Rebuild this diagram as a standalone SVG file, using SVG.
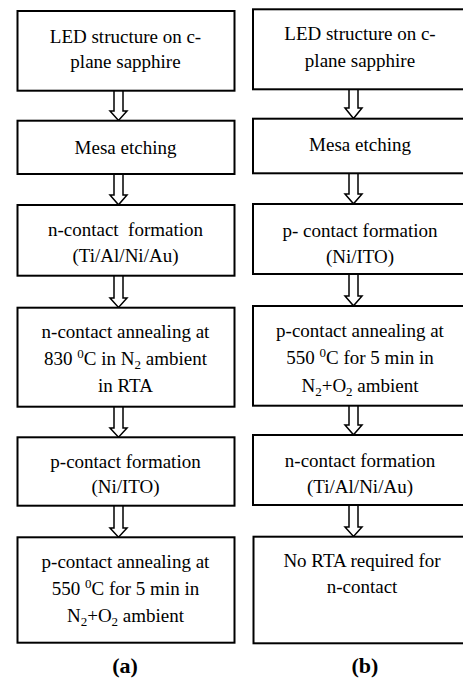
<svg xmlns="http://www.w3.org/2000/svg" width="463" height="678" viewBox="0 0 463 678">
<style>
.box{fill:#fff;stroke:#000;stroke-width:2}
.t{font-family:'Liberation Serif','Times New Roman',serif;font-size:19px;fill:#000;text-anchor:middle;white-space:pre}
.lab{font-family:'Liberation Serif','Times New Roman',serif;font-size:22px;font-weight:bold;fill:#000;text-anchor:middle}
.arr{fill:#fff;stroke:#000;stroke-width:1.5;stroke-linejoin:miter}
.s{font-size:13px}
</style>
<rect width="463" height="678" fill="#fff"/>
<g id="connectors">
<path class="arr" d="M114,90.7 V111 H110 L118.5,120.5 L127,111 H123 V90.7"/>
<path class="arr" d="M114,174 V195 H110 L118.5,204.8 L127,195 H123 V174"/>
<path class="arr" d="M114,275.7 V298 H110 L118.5,307.5 L127,298 H123 V275.7"/>
<path class="arr" d="M114,406.7 V428 H110 L118.5,437.2 L127,428 H123 V406.7"/>
<path class="arr" d="M114,505.7 V528 H110 L118.5,537.2 L127,528 H123 V505.7"/>
<path class="arr" d="M349,89.3 V108 H345 L353.5,118.5 L362,108 H358 V89.3"/>
<path class="arr" d="M349,173.3 V194 H345 L353.5,203.8 L362,194 H358 V173.3"/>
<path class="arr" d="M349,274 V296 H345 L353.5,305.8 L362,296 H358 V274"/>
<path class="arr" d="M349,405.7 V425 H345 L353.5,434.8 L362,425 H358 V405.7"/>
<path class="arr" d="M349,505 V527 H345 L353.5,536.5 L362,527 H358 V505"/>
</g>
<g id="a1"><rect class="box" x="17.5" y="11" width="217" height="79.7"/>
<text class="t" x="125.5" y="42.7">LED structure on c-</text>
<text class="t" x="125.5" y="68.3">plane sapphire</text></g>
<g id="a2"><rect class="box" x="17.5" y="120.7" width="217" height="53.3"/>
<text class="t" x="125.5" y="154">Mesa etching</text></g>
<g id="a3"><rect class="box" x="17.5" y="205" width="217" height="70.7"/>
<text class="t" x="125.5" y="236">n-contact  formation</text>
<text class="t" x="125.5" y="261.7">(Ti/Al/Ni/Au)</text></g>
<g id="a4"><rect class="box" x="17.5" y="307.7" width="217" height="99"/>
<text class="t" x="125.5" y="338.3">n-contact annealing at</text>
<text class="t" x="125.5" y="365">830 <tspan class="s" dy="-7">0</tspan><tspan dy="7">C in N</tspan><tspan class="s" dy="4">2</tspan><tspan dy="-4"> ambient</tspan></text>
<text class="t" x="125.5" y="391.7">in RTA</text></g>
<g id="a5"><rect class="box" x="17.5" y="437.3" width="217" height="68.4"/>
<text class="t" x="125.5" y="467.5">p-contact formation</text>
<text class="t" x="125.5" y="493.3">(Ni/ITO)</text></g>
<g id="a6"><rect class="box" x="17.5" y="537.3" width="217" height="105.4"/>
<text class="t" x="125.5" y="568.3">p-contact annealing at</text>
<text class="t" x="125.5" y="595">550 <tspan class="s" dy="-7">0</tspan><tspan dy="7">C for 5 min in</tspan></text>
<text class="t" x="125.5" y="621.7">N<tspan class="s" dy="4">2</tspan><tspan dy="-4">+O</tspan><tspan class="s" dy="4">2</tspan><tspan dy="-4"> ambient</tspan></text></g>
<g id="b1"><rect class="box" x="253" y="9.3" width="214" height="80"/>
<text class="t" x="360" y="40">LED structure on c-</text>
<text class="t" x="360" y="66.7">plane sapphire</text></g>
<g id="b2"><rect class="box" x="253" y="118.7" width="214" height="54.6"/>
<text class="t" x="360" y="150.5">Mesa etching</text></g>
<g id="b3"><rect class="box" x="253" y="204" width="214" height="70"/>
<text class="t" x="360" y="237">p- contact formation</text>
<text class="t" x="360" y="263.3">(Ni/ITO)</text></g>
<g id="b4"><rect class="box" x="253" y="306" width="214" height="99.7"/>
<text class="t" x="360" y="337.3">p-contact annealing at</text>
<text class="t" x="360" y="364">550 <tspan class="s" dy="-7">0</tspan><tspan dy="7">C for 5 min in</tspan></text>
<text class="t" x="360" y="391.7">N<tspan class="s" dy="4">2</tspan><tspan dy="-4">+O</tspan><tspan class="s" dy="4">2</tspan><tspan dy="-4"> ambient</tspan></text></g>
<g id="b5"><rect class="box" x="253" y="435" width="214" height="70"/>
<text class="t" x="360" y="467">n-contact formation</text>
<text class="t" x="360" y="493.3">(Ti/Al/Ni/Au)</text></g>
<g id="b6"><rect class="box" x="253.5" y="536.7" width="214" height="106.6"/>
<text class="t" x="362" y="567.3">No RTA required for</text>
<text class="t" x="362" y="593.3">n-contact</text></g>
<g id="labels">
<text class="lab" x="125" y="673">(a)</text>
<text class="lab" x="365" y="673">(b)</text>
</g>
</svg>
